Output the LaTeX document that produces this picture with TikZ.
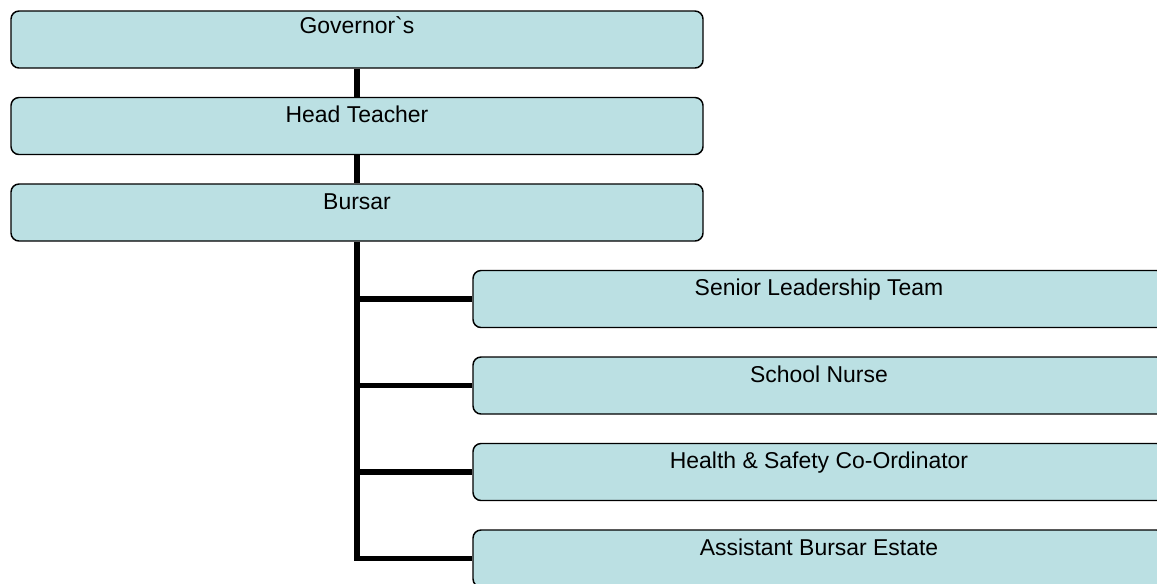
\documentclass[tikz,border=0pt]{standalone}
\usepackage{fontspec}
\setmainfont{Liberation Sans}
\definecolor{boxfill}{HTML}{BBE0E3}
\tikzset{
  orgbox/.style={draw=black, line width=1.1pt, fill=boxfill, rounded corners=6pt,
    minimum width=519pt, inner xsep=0pt, inner ysep=0pt,
    text height=18.75pt, text depth=24pt,
    font=\fontsize{17.2}{20}\selectfont},
  conn/.style={draw=black, line width=4.2pt}
}
\begin{document}
\begin{tikzpicture}[x=0.75pt,y=-0.75pt]
      \path[use as bounding box, clip] (0,0) rectangle (1157,583);
      % left column
      \node[orgbox, text height=16.5pt, text depth=26.25pt] (gov) at (357,39.5) {Governor\textasciigrave s};
      \node[orgbox] (head) at (357,126) {Head Teacher};
      \node[orgbox] (burs) at (357,212.5) {Bursar};
      % right column
      \node[orgbox] (slt) at (819,299) {Senior Leadership Team};
      \node[orgbox] (nurse) at (819,385.5) {School Nurse};
      \node[orgbox] (hsc) at (819,472) {Health \& Safety Co-Ordinator};
      \node[orgbox] (abe) at (819,558.5) {Assistant Bursar Estate};
      \begin{scope}[conn]
        \draw (gov) -- (head);
        \draw (head) -- (burs);
        \draw (burs.south) |- (abe.west);
        \draw (burs.south |- slt.west) -- (slt.west);
        \draw (burs.south |- nurse.west) -- (nurse.west);
        \draw (burs.south |- hsc.west) -- (hsc.west);
      \end{scope}
    \end{tikzpicture}
\end{document}
